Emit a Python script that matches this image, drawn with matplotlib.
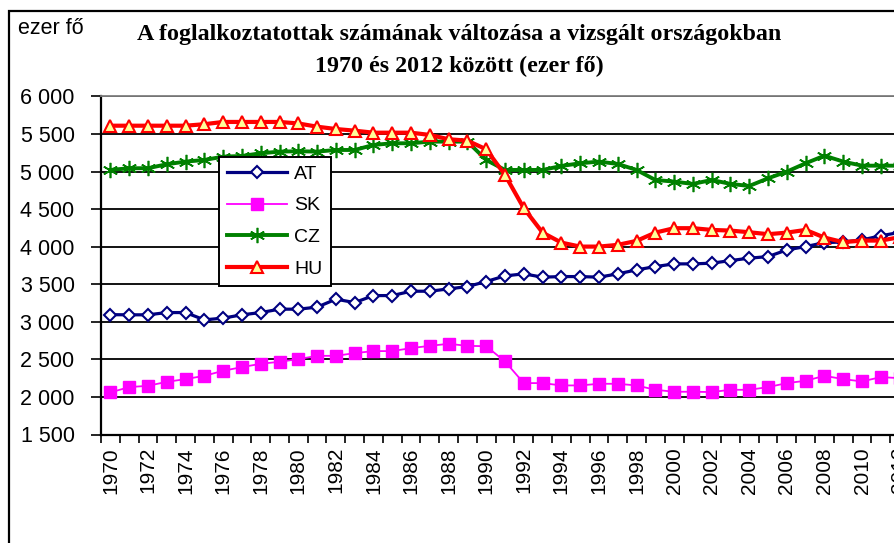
import matplotlib
matplotlib.use("Agg")
import matplotlib.pyplot as plt
from matplotlib.patches import Rectangle
from matplotlib.ticker import FuncFormatter, FixedLocator

# categories
years = list(range(1970, 2013))

# employment, thousand persons
at_vals = [3095, 3093, 3093, 3123, 3123, 3026, 3049, 3093, 3123, 3168,
           3168, 3195, 3301, 3256, 3349, 3349, 3407, 3407, 3438, 3469,
           3536, 3611, 3638, 3594, 3602, 3602, 3594, 3638, 3691, 3735,
           3771, 3771, 3780, 3815, 3847, 3868, 3957, 4001, 4054, 4062,
           4090, 4145, 4190]
sk_vals = [2060, 2131, 2148, 2201, 2237, 2281, 2348, 2397, 2441, 2468,
           2503, 2547, 2547, 2583, 2610, 2610, 2650, 2680, 2707, 2680,
           2675, 2472, 2184, 2184, 2153, 2153, 2175, 2175, 2153, 2095,
           2069, 2069, 2065, 2095, 2095, 2131, 2184, 2215, 2281, 2237,
           2206, 2264, 2250]
cz_vals = [5021, 5044, 5044, 5097, 5132, 5154, 5198, 5207, 5243, 5265,
           5270, 5265, 5287, 5287, 5354, 5376, 5376, 5398, 5398, 5398,
           5154, 5021, 5021, 5021, 5074, 5110, 5132, 5101, 5021, 4888,
           4866, 4835, 4888, 4835, 4808, 4910, 4999, 5110, 5211, 5132,
           5078, 5078, 5078]
hu_vals = [5610, 5610, 5610, 5610, 5610, 5630, 5660, 5660, 5660, 5660,
           5640, 5597, 5566, 5544, 5517, 5517, 5517, 5487, 5430, 5411,
           5296, 4955, 4512, 4187, 4054, 4001, 4001, 4024, 4077, 4187,
           4246, 4246, 4223, 4214, 4192, 4166, 4187, 4223, 4121, 4060,
           4081, 4081, 4126]

series_names = ["AT", "SK", "CZ", "HU"]
title_lines = ["A foglalkoztatottak számának változása a vizsgált országokban",
               "1970 és 2012 között (ezer fő)"]
unit_label = "ezer fő"

W, H = 895, 543
fig = plt.figure(figsize=(W / 100, H / 100), dpi=100)
fig.patch.set_facecolor("white")

# outer chart frame (runs off the right and bottom edge like the original)
fig.patches.append(Rectangle((9 / W, -0.2), 1.5, 1 - 11 / H + 0.2,
                             transform=fig.transFigure, fill=False,
                             ec="black", lw=1.6, zorder=0))

left, right, top, bottom = 101, 909, 96.4, 434.5
ax = fig.add_axes([left / W, 1 - bottom / H, (right - left) / W, (bottom - top) / H])

x = list(range(len(years)))
ax.plot(x, at_vals, color="#000080", lw=2.3, marker="D", ms=6.2,
        mfc="white", mec="#000080", mew=1.5, label=series_names[0])
ax.plot(x, sk_vals, color="#FF00FF", lw=1.3, marker="s", ms=8,
        mfc="#FF00FF", mec="#FF00FF", label=series_names[1])
ax.plot(x, cz_vals, color="#008000", lw=2.8, marker=(6, 2, 0), ms=11,
        mec="#008000", mew=1.2, label=series_names[2])
ax.plot(x, hu_vals, color="#FF0000", lw=3.0, marker="^", ms=8.5,
        mfc="#FFFF99", mec="#FF0000", mew=1.5, label=series_names[3])

ax.set_xlim(-0.5, len(years) - 0.5)
ax.set_ylim(1500, 6000)
ax.set_yticks(range(1500, 6001, 500))
ax.yaxis.set_major_formatter(FuncFormatter(lambda v, p: f"{v:,.0f}".replace(",", " ")))
ax.grid(axis="y", color="black", lw=1.3)
ax.set_axisbelow(True)

# category axis: tick marks between categories, labels every second year
ax.xaxis.set_major_locator(FixedLocator([i for i in x if i % 2 == 0]))
ax.set_xticklabels([str(y) for y in years if (y - 1970) % 2 == 0], rotation=90)
ax.xaxis.set_minor_locator(FixedLocator([i - 0.5 for i in range(len(years) + 1)]))
ax.tick_params(axis="x", which="major", length=0, pad=9)
ax.tick_params(axis="x", which="minor", length=6, width=1.2, direction="out")
ax.tick_params(axis="y", length=7, width=1.2, direction="out", pad=12)

for lbl in ax.get_xticklabels():
    lbl.set_fontfamily("Liberation Sans")
    lbl.set_fontsize(15)
for lbl in ax.get_yticklabels():
    lbl.set_fontfamily("Liberation Sans")
    lbl.set_fontsize(15.5)

for s in ("left", "bottom"):
    ax.spines[s].set_color("black")
    ax.spines[s].set_linewidth(1.6)
ax.spines["top"].set_color("#808080")
ax.spines["top"].set_linewidth(1.3)
ax.spines["right"].set_visible(False)

leg = fig.legend(loc="upper left", bbox_to_anchor=(219 / W, 1 - 157 / H),
                 borderaxespad=0, fancybox=False, framealpha=1,
                 edgecolor="black", handlelength=3.1, handletextpad=0.35,
                 labelspacing=0.72, borderpad=0.42,
                 prop={"family": "Liberation Sans", "size": 14})
leg.get_frame().set_linewidth(1.4)

fig.text(459 / W, 1 - 35 / H, title_lines[0], ha="center", va="center",
         family="Liberation Serif", weight="bold", fontsize=17.3)
fig.text(459 / W, 1 - 66 / H, title_lines[1], ha="center", va="center",
         family="Liberation Serif", weight="bold", fontsize=17.3)
fig.text(18 / W, 1 - 28 / H, unit_label, ha="left", va="center",
         family="Liberation Sans", fontsize=15.5)

fig.savefig("out.png", dpi=100)
